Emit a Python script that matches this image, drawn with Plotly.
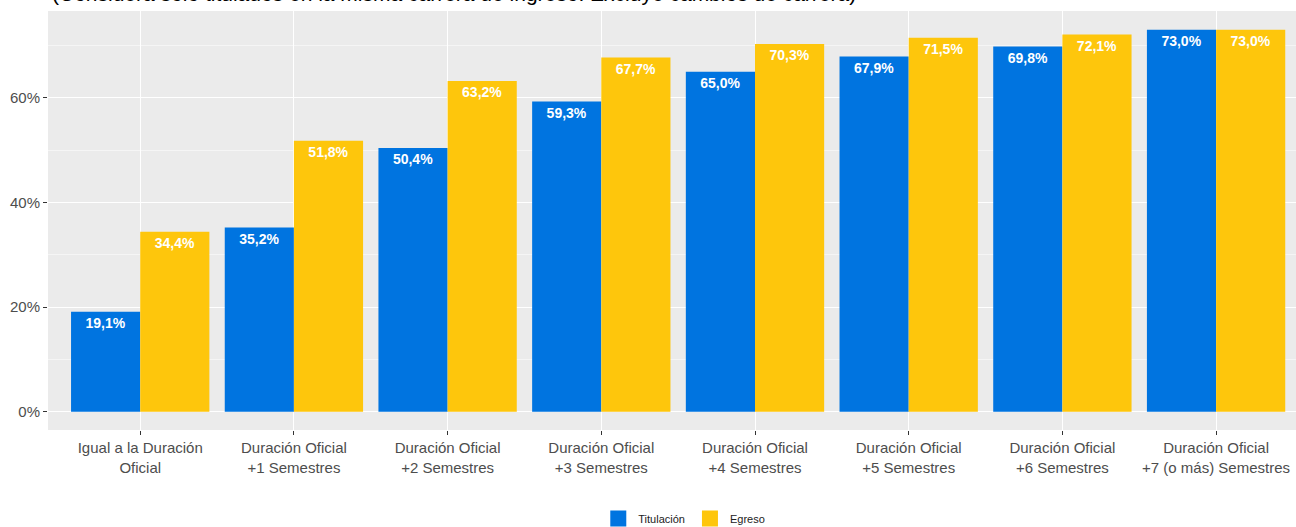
import plotly.graph_objects as go

categorias = ["Igual a la Duración<br>Oficial", "Duración Oficial<br>+1 Semestres",
              "Duración Oficial<br>+2 Semestres", "Duración Oficial<br>+3 Semestres",
              "Duración Oficial<br>+4 Semestres", "Duración Oficial<br>+5 Semestres",
              "Duración Oficial<br>+6 Semestres", "Duración Oficial<br>+7 (o más) Semestres"]
titulacion = [19.1, 35.2, 50.4, 59.3, 65.0, 67.9, 69.8, 73.0]
egreso = [34.4, 51.8, 63.2, 67.7, 70.3, 71.5, 72.1, 73.0]
y_ticks = [0, 20, 40, 60]
y_ticktext = ["0%", "20%", "40%", "60%"]

x_pos = list(range(len(categorias)))
series = [("Titulación", titulacion, "#0074E0"), ("Egreso", egreso, "#FEC60C")]

fig = go.Figure()
for name, vals, color in series:
    fig.add_trace(go.Bar(
        x=x_pos, y=vals, name=name, showlegend=False,
        marker=dict(color=color, line=dict(width=0)),
        text=[f"{v:.1f}%".replace(".", ",") for v in vals],
        textposition="inside", insidetextanchor="end",
        textangle=0,
        textfont=dict(color="white", size=14, family="Liberation Sans", weight="bold"),
    ))
# legend keys as big squares like ggplot
for name, vals, color in series:
    fig.add_trace(go.Scatter(
        x=[None], y=[None], name=name, mode="markers",
        marker=dict(symbol="square", size=20, color=color),
    ))

fig.update_layout(
    barmode="group", bargap=0.1, bargroupgap=0,
    width=1296, height=527,
    margin=dict(l=48, r=0, t=11, b=97),
    plot_bgcolor="#EBEBEB", paper_bgcolor="white",
    font=dict(family="Liberation Sans", color="#4D4D4D", size=15),
    legend=dict(orientation="h", x=0.528, xanchor="center", xref="container",
                y=0.016, yanchor="middle", yref="container", itemsizing="trace",
                itemwidth=30, font=dict(size=11, color="#222"), traceorder="normal"),
    showlegend=True,
)
fig.update_xaxes(
    tickmode="array", tickvals=x_pos, ticktext=categorias, automargin=False,
    range=[-0.6, 7.52], showgrid=True, gridcolor="white", gridwidth=1.3,
    ticks="outside", ticklen=4, tickcolor="#333", zeroline=False,
    tickfont=dict(size=15, color="#4D4D4D"),
)
fig.update_yaxes(
    tickmode="array", tickvals=y_ticks, ticktext=y_ticktext, automargin=False,
    range=[-3.5, 76.6], showgrid=True, gridcolor="white", gridwidth=1.3,
    ticks="outside", ticklen=4, tickcolor="#333", zeroline=False,
    minor=dict(tickvals=[10, 30, 50, 70], showgrid=True, gridcolor="#F5F5F5", gridwidth=0.7),
    tickfont=dict(size=15, color="#4D4D4D"),
)
# subtitle is cut off at the top edge in the original image
fig.add_annotation(
    text="(Considera sólo titulados en la misma carrera de ingreso. Excluye cambios de carrera)",
    xref="paper", yref="paper", x=0.0016, y=1, xanchor="left", yanchor="bottom",
    yshift=4, showarrow=False, font=dict(size=21, color="black", family="Liberation Sans"),
)

fig.write_html("out.html", config={"displayModeBar": False},
               post_script="document.body.style.margin='0';")
